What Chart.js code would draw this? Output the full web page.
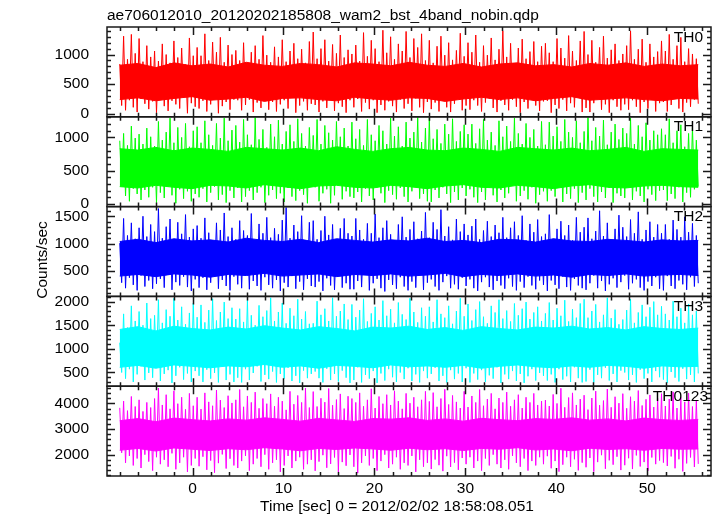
<!DOCTYPE html>
<html>
<head>
<meta charset="utf-8">
<script src="https://cdn.jsdelivr.net/npm/chart.js@4/dist/chart.umd.min.js"></script>
<style>
  html, body { margin: 0; padding: 0; background: #fff; }
  #lc { display: block; }
</style>
</head>
<body>
<canvas id="lc" width="717" height="516"></canvas>
<script>
// light curve samples (counts/sec), alternating local peaks and troughs, evenly spaced in time
let tStart = -8.0;
let tEnd = 55.6;

let th0 = [
	840,140, 1310,60, 920,230, 1340,110, 1020,30, 1270,250, 880,170, 1150,80, 960,210, 1060,20,
	890,260, 1180,130, 1000,50, 860,220, 1230,160, 950,90, 1110,270, 830,10, 1280,180, 980,120,
	1120,90, 980,220, 1350,40, 900,160, 1210,270, 1040,10, 1290,130, 870,200, 1160,70, 1000,240,
	1070,230, 900,60, 1200,150, 850,240, 1040,30, 1150,190, 920,100, 1320,250, 990,70, 870,200,
	1130,40, 960,160, 1250,230, 880,90, 1060,280, 1190,20, 930,140, 1090,210, 860,60, 1220,170,
	1380,150, 930,30, 1100,210, 1250,100, 890,260, 1170,50, 1020,180, 1330,120, 950,20, 1080,230,
	1010,110, 1160,250, 890,40, 1370,190, 970,80, 1240,230, 1100,20, 880,150, 1410,60, 1030,210,
	1300,130, 920,30, 1180,240, 1060,90, 1390,170, 950,50, 1270,260, 1120,110, 1350,20, 900,200,
	1240,80, 860,190, 1140,40, 1310,250, 990,110, 1200,30, 910,170, 1070,260, 1360,60, 970,140,
	1200,70, 1040,230, 1330,140, 870,40, 1150,190, 990,260, 1280,100, 910,30, 1090,220, 1400,150,
	960,60, 1190,240, 850,120, 1110,20, 1260,200, 930,90, 1050,270, 1220,140, 880,50, 1140,210,
	1190,220, 1030,20, 880,150, 1270,90, 1110,240, 940,50, 1320,180, 1060,110, 900,270, 1230,30,
	1390,100, 1000,30, 1240,180, 870,250, 1120,70, 1310,160, 940,20, 1080,230, 1180,120, 900,60,
	1010,160, 1150,70, 1400,230, 920,120, 1090,20, 1260,200, 870,90, 1180,250, 960,40, 1050,180,
	1230,200, 1060,40, 1340,150, 920,260, 1150,90, 1290,30, 880,190, 1100,120, 1010,240, 930,170
];
let th1 = [
	950,270, 1060,120, 880,40, 1170,230, 990,150, 1050,60, 900,210, 1140,100, 1010,250, 870,20,
	1240,170, 960,90, 1080,260, 1290,130, 920,10, 1150,220, 1000,80, 1210,190, 860,40, 1100,150,
	1160,100, 920,230, 1250,30, 1040,170, 880,260, 1210,60, 990,140, 1290,20, 950,200, 1110,90,
	1180,240, 930,30, 1270,110, 1040,200, 890,60, 1300,170, 970,250, 1120,20, 850,130, 1200,210,
	1010,80, 1260,160, 900,30, 1090,240, 1190,110, 940,50, 1280,200, 1060,140, 870,10, 1150,260,
	1030,250, 1270,40, 900,160, 1180,220, 1070,10, 960,130, 1240,270, 1010,70, 1140,190, 870,110,
	1230,90, 980,180, 1120,30, 880,230, 1270,120, 1040,60, 950,250, 1180,160, 1100,20, 900,200,
	1290,140, 1020,70, 1160,240, 870,110, 1230,30, 990,190, 1080,260, 1300,80, 930,150, 1140,40,
	1300,30, 980,210, 1120,90, 910,250, 1200,150, 1050,20, 1280,180, 940,60, 1090,240, 1190,120,
	1050,220, 1200,100, 910,20, 1130,180, 1270,60, 960,240, 1080,130, 880,30, 1250,210, 1010,90,
	1170,160, 940,270, 1290,40, 1060,120, 900,200, 1210,70, 1000,250, 1120,10, 870,140, 1240,190,
	890,40, 1230,200, 1020,110, 1160,260, 940,30, 1270,150, 1080,80, 1000,230, 1250,20, 920,170,
	1090,60, 1300,230, 950,110, 1150,30, 1020,180, 1260,90, 890,240, 1080,20, 1200,160, 970,120,
	1140,90, 1060,250, 1290,60, 900,190, 1180,120, 1010,30, 1220,220, 960,140, 1100,50, 1040,200,
	1130,210, 1040,50, 1280,150, 920,80, 1100,250, 1190,30, 860,170, 1060,100, 1150,220, 960,260
];
let th2 = [
	1010,290, 1460,190, 1150,380, 1380,250, 1090,150, 1290,420, 1500,220, 1130,330, 1350,180, 1220,270,
	1640,360, 1100,200, 1310,430, 1450,160, 1060,300, 1390,240, 1180,400, 1530,210, 1120,140, 1270,350,
	1330,200, 1100,380, 1470,160, 1200,290, 1060,420, 1380,180, 1250,340, 1560,230, 1130,150, 1290,400,
	1080,260, 1420,190, 1240,440, 1150,170, 1550,320, 1050,230, 1360,150, 1190,390, 1480,250, 1110,190,
	1280,340, 1170,140, 1430,290, 1660,210, 1100,410, 1340,180, 1220,310, 1510,160, 1060,360, 1390,230,
	1420,210, 1080,310, 1240,140, 1500,370, 1160,240, 1350,160, 1050,430, 1280,200, 1460,280, 1190,170,
	1140,170, 1460,320, 1250,210, 1080,430, 1370,150, 1190,280, 1540,360, 1110,190, 1290,130, 1420,340,
	1170,250, 1050,180, 1350,390, 1490,220, 1120,150, 1260,310, 1400,200, 1090,430, 1230,160, 1570,290,
	1110,350, 1390,220, 1260,150, 1620,300, 1140,410, 1310,190, 1070,260, 1450,170, 1220,380, 1360,230,
	1160,350, 1320,190, 1450,140, 1080,300, 1240,390, 1410,210, 1130,160, 1340,320, 1200,240, 1480,180,
	1110,370, 1290,220, 1400,150, 1150,310, 1510,200, 1060,400, 1360,240, 1210,170, 1440,330, 1130,250,
	1180,140, 1530,330, 1090,250, 1270,180, 1410,400, 1150,210, 1340,150, 1060,360, 1480,240, 1210,190,
	1300,160, 1470,280, 1090,420, 1230,190, 1600,320, 1140,140, 1380,260, 1040,370, 1270,200, 1520,300,
	1300,420, 1130,170, 1440,280, 1190,350, 1580,200, 1080,150, 1250,310, 1400,230, 1120,390, 1350,180,
	1190,150, 1350,410, 1080,230, 1430,180, 1260,330, 1120,260, 1490,160, 1210,390, 1370,220, 1150,280
];
let th3 = [
	1130,500, 1740,370, 1450,570, 1910,300, 1590,460, 1790,630, 1500,340, 1970,490, 1640,390, 1710,600,
	2040,320, 1550,470, 1830,550, 1690,280, 2070,430, 1610,610, 1890,350, 1520,480, 1760,300, 1970,530,
	1670,430, 1930,300, 1560,560, 1820,370, 2060,490, 1600,290, 1780,620, 1990,340, 1640,460, 1870,300,
	1630,390, 1850,290, 1570,570, 2030,340, 1710,490, 1500,630, 1920,310, 1680,450, 1810,360, 2080,520,
	1590,290, 1780,470, 1970,370, 1540,600, 1860,320, 1700,430, 2050,280, 1630,540, 1790,380, 1530,470,
	1540,520, 2010,380, 1720,290, 1850,580, 1590,340, 2080,470, 1690,310, 1800,540, 1950,390, 1620,280,
	1940,340, 1670,610, 1820,290, 2060,450, 1580,370, 1750,530, 1890,280, 1610,480, 2020,330, 1700,570,
	1840,400, 1550,300, 1980,500, 1730,360, 1620,590, 2070,320, 1780,460, 1560,290, 1870,530, 1690,380,
	1890,470, 1570,600, 2040,320, 1740,430, 1660,290, 1910,550, 1530,360, 1800,480, 2070,300, 1690,590,
	1950,290, 1600,480, 1830,350, 2000,550, 1680,300, 1540,440, 1910,370, 1770,610, 2040,280, 1640,460,
	1810,360, 1580,530, 1960,320, 1710,470, 1850,280, 1990,420, 1630,570, 1770,330, 1890,490, 1590,430,
	1750,330, 1980,460, 1610,290, 1860,570, 1700,350, 2030,420, 1580,300, 1840,610, 1660,380, 1960,290,
	2050,310, 1660,560, 1800,290, 1940,450, 1570,380, 1720,600, 2080,330, 1650,470, 1830,300, 1520,540,
	1620,500, 1820,340, 2050,450, 1550,290, 1770,560, 1930,370, 1680,480, 1880,300, 2000,530, 1720,400,
	1900,350, 1740,280, 1610,510, 2010,390, 1680,310, 1860,580, 1550,360, 1950,450, 1720,300, 1800,480
];
let th0123 = [
	3830,2080, 4090,1690, 3720,1960, 4270,1590, 3880,1860, 4140,1490, 3690,2010, 4040,1740, 3840,1390, 4190,1910,
	4600,1640, 3940,1810, 4340,1540, 3790,2060, 4490,1440, 3990,1690, 4240,1910, 3770,1340, 4390,1590, 3910,1860,
	4240,1560, 3780,1930, 4410,1420, 4060,1780, 3910,1310, 4520,1680, 4130,2020, 3840,1470, 4300,1850, 4020,1590,
	4140,1490, 4540,1760, 3870,1960, 4290,1390, 4040,1640, 4440,1860, 3810,1540, 4190,2010, 3990,1440, 4370,1690,
	3890,1810, 4240,1340, 4090,1590, 3750,1960, 4470,1490, 3970,1760, 4310,1910, 4040,1440, 4600,1640, 3840,1810,
	4460,1380, 3880,1740, 4200,1990, 4050,1500, 4580,1650, 3930,1900, 4150,1330, 4370,1720, 3800,1580, 4280,2000,
	4190,1540, 4040,1290, 4410,1690, 3890,1960, 4140,1590, 4570,1860, 3820,1390, 4270,1760, 3990,2010, 4340,1490,
	3940,1640, 4490,1910, 4090,1440, 3790,1690, 4390,1590, 4010,1960, 4240,1340, 3870,1810, 4140,1540, 4470,1690,
	4080,1450, 4420,1820, 3870,1600, 4190,1370, 4550,1950, 3960,1530, 4310,1700, 4060,1420, 3820,1880, 4470,1640,
	3860,1910, 4290,1490, 4040,1760, 4540,1390, 3910,1860, 4170,1590, 4390,2010, 3790,1640, 4210,1490, 4040,1810,
	4440,1440, 3890,1960, 4140,1690, 4340,1540, 3820,1860, 4240,1390, 4040,1760, 4390,1590, 3940,1910, 4090,1640,
	4130,1950, 3900,1480, 4350,1760, 4000,1350, 4590,1620, 3850,1910, 4230,1540, 4410,1830, 3940,1400, 4170,1700,
	4320,1520, 3760,1880, 4210,1350, 4480,1720, 3930,1990, 4110,1460, 4560,1790, 3850,1620, 4260,1930, 4010,1410,
	4380,1600, 3810,1870, 4260,1450, 4090,1980, 4500,1550, 3920,1720, 4160,1380, 4330,1900, 3860,1640, 4200,1780,
	4380,1700, 3900,1570, 4170,1940, 4450,1480, 3820,1830, 4230,1360, 4060,1670, 4400,1900, 3880,1530, 4120,1650
];

// dense core of each band, one value every ~2 s
let th0Lo = [240,270,220,260,290,230,250,280,210,260,270,240,220,280,250,230,270,260,210,250,280,240,270,220,260,290,230,250,270,240,220,260,250];
let th0Hi = [820,850,780,860,810,840,790,870,820,800,850,830,790,860,840,810,870,820,800,850,790,840,860,810,830,790,850,820,860,800,840,810,830];
let th1Lo = [260,240,280,250,230,280,270,240,290,260,230,270,280,250,240,280,260,230,270,290,250,240,280,260,230,270,290,250,240,270,280,260,250];
let th1Hi = [830,810,850,800,840,820,790,850,830,810,840,800,860,820,790,830,850,810,800,840,820,790,850,830,810,840,800,820,850,790,830,820,810];
let th2Lo = [410,440,400,450,430,390,440,420,460,410,430,450,400,440,420,450,410,430,460,400,440,420,450,410,430,390,440,420,450,410,430,440,420];
let th2Hi = [1040,1080,1020,1090,1050,1070,1030,1100,1060,1040,1080,1020,1090,1060,1030,1070,1050,1100,1040,1060,1020,1080,1070,1030,1090,1050,1040,1080,1060,1030,1070,1050,1060];
let th3Lo = [610,650,590,660,630,600,640,620,670,610,640,590,650,630,600,660,620,640,610,650,590,630,660,620,600,640,610,650,630,590,640,620,630];
let th3Hi = [1410,1470,1380,1480,1430,1400,1460,1420,1490,1440,1400,1470,1430,1380,1460,1440,1480,1410,1450,1390,1470,1430,1400,1460,1440,1480,1420,1450,1400,1470,1430,1410,1440];
let th0123Lo = [2180,2250,2150,2270,2220,2170,2240,2200,2280,2230,2160,2250,2210,2270,2230,2180,2260,2200,2240,2170,2250,2220,2280,2190,2230,2160,2260,2210,2240,2180,2250,2220,2230];
let th0123Hi = [3330,3410,3290,3430,3370,3320,3400,3350,3440,3380,3310,3420,3360,3300,3410,3390,3440,3340,3400,3310,3420,3370,3330,3410,3380,3440,3350,3400,3320,3430,3370,3340,3380];

let panelNames = ['TH0', 'TH1', 'TH2', 'TH3', 'TH0123'];
let panelColors = ['#ff0000', '#00ff00', '#0000ff', '#00ffff', '#ff00ff'];
let yRanges = [[-50, 1465], [-40, 1310], [40, 1676], [210, 2110], [1180, 4670]];
let yTickValues = [[0, 500, 1000], [0, 500, 1000], [500, 1000, 1500], [500, 1000, 1500, 2000], [2000, 3000, 4000]];
let yMajor = [500, 500, 500, 500, 1000];
let yMinor = [100, 100, 100, 100, 200];
let xTickValues = [0, 10, 20, 30, 40, 50];

let title = 'ae706012010_20120202185808_wam2_bst_4band_nobin.qdp';
let xTitle = 'Time [sec] 0 = 2012/02/02 18:58:08.051';
let yTitle = 'Counts/sec';

let FONT = '"Liberation Sans", Arial, Helvetica, sans-serif';

function toPoints(values) {
	let step = (tEnd - tStart) / (values.length - 1);
	return values.map((v, i) => ({ x: tStart + i * step, y: v }));
}

let samples = [th0, th1, th2, th3, th0123];
let lows = [th0Lo, th1Lo, th2Lo, th3Lo, th0123Lo];
let highs = [th0Hi, th1Hi, th2Hi, th3Hi, th0123Hi];

let datasets = [];
let scales = {
	x: {
		type: 'linear',
		min: -9.4,
		max: 57.0,
		grid: { display: false },
		border: { display: false },
		afterBuildTicks: (scale) => { scale.ticks = xTickValues.map(v => ({ value: v })); },
		ticks: {
			autoSkip: false,
			maxRotation: 0,
			color: '#000',
			padding: -5,
			font: { family: FONT, size: 15.5 },
			callback: (v) => String(v)
		},
		afterFit: (scale) => { scale.height = 40; }
	}
};

panelNames.forEach((name, k) => {
	let axisId = 'y' + k;
	let color = panelColors[k];
	datasets.push({
		label: name,
		yAxisID: axisId,
		data: toPoints(samples[k]),
		borderColor: color,
		borderWidth: 1,
		borderJoinStyle: 'bevel',
		pointRadius: 0,
		tension: 0,
		fill: false
	});
	datasets.push({
		label: name + ' core hi',
		yAxisID: axisId,
		data: toPoints(highs[k]),
		borderColor: color,
		backgroundColor: color,
		borderWidth: 1,
		pointRadius: 0,
		tension: 0,
		fill: '+1'
	});
	datasets.push({
		label: name + ' core lo',
		yAxisID: axisId,
		data: toPoints(lows[k]),
		borderColor: color,
		borderWidth: 1,
		pointRadius: 0,
		tension: 0,
		fill: false
	});
	scales[axisId] = {
		type: 'linear',
		position: 'left',
		stack: 'wam',
		stackWeight: 1,
		weight: 10 - k,
		min: yRanges[k][0],
		max: yRanges[k][1],
		grid: { display: false },
		border: { display: false },
		afterBuildTicks: (scale) => { scale.ticks = yTickValues[k].map(v => ({ value: v })); },
		ticks: {
			autoSkip: false,
			color: '#000',
			padding: 10,
			font: { family: FONT, size: 15.5 },
			callback: (v) => String(v)
		},
		afterFit: (scale) => { scale.width = 107; }
	};
});

// frames, inward ticks on every side, and the loose texts
let qdpFrame = {
	id: 'qdpFrame',
	beforeDraw(chart) {
		let c = chart.ctx;
		c.save();
		c.fillStyle = '#fff';
		c.fillRect(0, 0, chart.width, chart.height);
		c.restore();
	},
	afterDraw(chart) {
		let c = chart.ctx;
		let area = chart.chartArea;
		let xs = chart.scales.x;
		c.save();
		c.strokeStyle = '#1a1a1a';
		c.lineWidth = 1.5;
		panelNames.forEach((name, k) => {
			let ys = chart.scales['y' + k];
			let top = ys.top, bottom = ys.bottom;
			c.strokeRect(area.left, top, area.right - area.left, bottom - top);
			c.beginPath();
			// y ticks
			let first = Math.ceil(ys.min / yMinor[k]) * yMinor[k];
			for (let v = first; v <= ys.max; v += yMinor[k]) {
				let py = Math.round(ys.getPixelForValue(v)) + 0.5;
				let len = (v % yMajor[k] === 0) ? 8 : 4;
				c.moveTo(area.left, py); c.lineTo(area.left + len, py);
				c.moveTo(area.right, py); c.lineTo(area.right - len, py);
			}
			// x ticks
			let fx = Math.ceil(xs.min / 2) * 2;
			for (let v = fx; v <= xs.max; v += 2) {
				let px = Math.round(xs.getPixelForValue(v)) + 0.5;
				let len = (v % 10 === 0) ? 8 : 4;
				c.moveTo(px, top); c.lineTo(px, top + len);
				c.moveTo(px, bottom); c.lineTo(px, bottom - len);
			}
			c.stroke();
			// panel label
			c.fillStyle = '#000';
			c.font = '15.5px ' + FONT;
			c.textAlign = 'right';
			c.textBaseline = 'alphabetic';
			let rx = (name === 'TH0123') ? area.right - 3 : area.right - 8;
			c.fillText(name, rx, top + 14.5);
		});
		c.fillStyle = '#000';
		c.font = '15.5px ' + FONT;
		c.textAlign = 'left';
		c.textBaseline = 'alphabetic';
		c.fillText(title, area.left, 20);
		c.textAlign = 'center';
		c.fillText(xTitle, 397, 511);
		c.translate(47, 260);
		c.rotate(-Math.PI / 2);
		c.fillText(yTitle, 0, 0);
		c.restore();
	}
};

let lcChart = new Chart(document.getElementById('lc'), {
	type: 'line',
	data: { datasets: datasets },
	options: {
		responsive: false,
		animation: false,
		devicePixelRatio: 1,
		layout: { padding: { top: 27, right: 6, left: 0, bottom: 0 } },
		plugins: {
			legend: { display: false },
			tooltip: { enabled: false },
			title: { display: false }
		},
		scales: scales
	},
	plugins: [qdpFrame]
});
</script>
</body>
</html>
